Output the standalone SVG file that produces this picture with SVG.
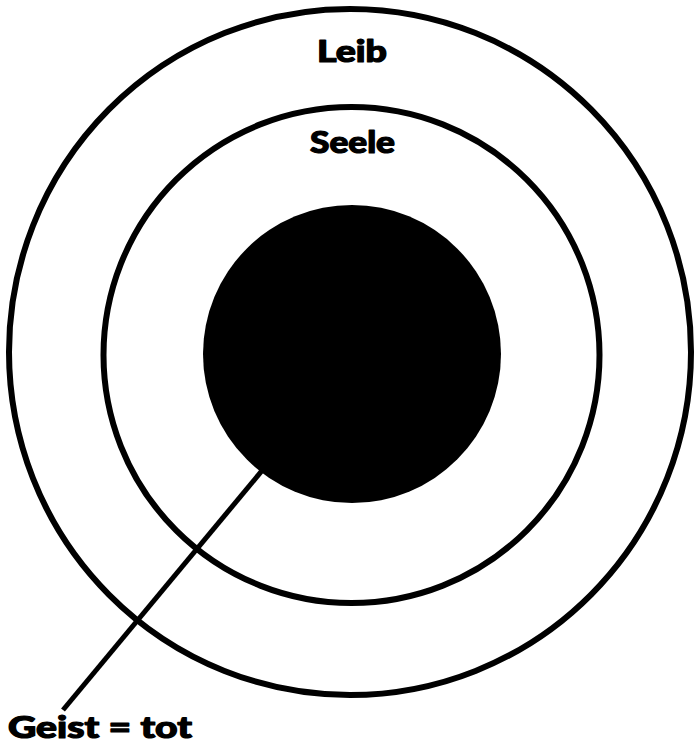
<svg xmlns="http://www.w3.org/2000/svg" width="695" height="745" viewBox="0 0 695 745">
<style>
.ring{fill:none;stroke:#000;stroke-width:6}
.lbl{font-family:"Lato","DejaVu Sans",sans-serif;font-weight:900;font-size:30px;fill:#000;stroke:#000;stroke-width:1.2;stroke-linejoin:round}
</style>
<rect width="695" height="745" fill="#fff"/>
<g id="leib">
<ellipse class="ring" cx="350" cy="352" rx="341" ry="343"/>
<text class="lbl" x="317" y="62" textLength="70" lengthAdjust="spacingAndGlyphs">Leib</text>
</g>
<g id="seele">
<circle class="ring" cx="351.5" cy="355" r="248"/>
<text class="lbl" x="310" y="153" textLength="85" lengthAdjust="spacingAndGlyphs">Seele</text>
</g>
<g id="geist">
<circle cx="352" cy="354" r="149" fill="#000"/>
</g>
<g id="connectors">
<line x1="63" y1="710" x2="275" y2="455" stroke="#000" stroke-width="5"/>
</g>
<g id="label-geist">
<text class="lbl" x="8" y="738" textLength="184" lengthAdjust="spacingAndGlyphs">Geist = tot</text>
</g>
</svg>
